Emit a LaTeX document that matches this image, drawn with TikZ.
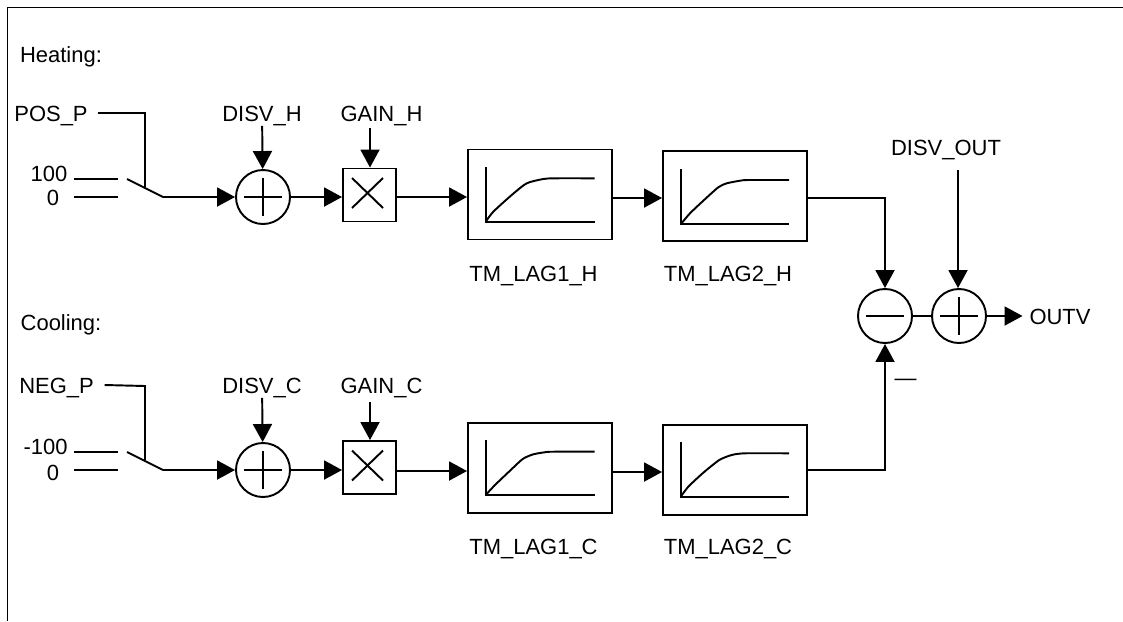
\documentclass[tikz,border=0pt]{standalone}
\usepackage{fontspec}
\setmainfont{Liberation Sans}
\usetikzlibrary{arrows.meta}

\begin{document}
\begin{tikzpicture}[
    x=0.2mm,
    y=-0.2mm,
    line width=1.1pt,
    every node/.style={font=\fontsize{12.5}{15}\selectfont},
    lbl/.style={inner xsep=1.2mm, inner ysep=0.8mm, text height=3.2mm, text depth=0pt},
    sumnode/.style={circle, draw, minimum size=10.8mm, inner sep=0pt},
    plusnode/.style={sumnode, path picture={
        \draw (path picture bounding box.center) ++(-19,0) -- ++(38,0);
        \draw (path picture bounding box.center) ++(0,-19) -- ++(0,38);}},
    minusnode/.style={sumnode, path picture={
        \draw (path picture bounding box.center) ++(-19,0) -- ++(38,0);}},
    prodnode/.style={rectangle, draw, minimum width=10.6mm, minimum height=10.6mm, path picture={
        \draw (path picture bounding box.center) ++(-17.5,-17) -- ++(31,30);
        \draw (path picture bounding box.center) ++(13.5,-17) -- ++(-31,30);}},
    lagbox/.style={rectangle, draw, minimum width=28.8mm, minimum height=18mm},
    arrow/.style={-{Triangle[length=3.6mm,width=3.8mm]}}
]
\useasboundingbox (0,0) rectangle (1123,621);

% Frame
\coordinate (frameleft) at (7.5,621);
\coordinate (framecorner) at (7.5,7.5);
\coordinate (frameright) at (1123,7.5);
\draw (frameleft) -- (framecorner) -- (frameright);

% Nodes, heating
\node[lbl] (heating) at (61,54) {Heating:};
\node[lbl, inner xsep=1.8mm] (posp) at (51,113) {POS\_P};
\node[lbl] (onehundred) at (49,173) {100};
\node[lbl] (zeroh) at (53,197) {0};
\node[lbl] (disvh) at (262,113) {DISV\_H};
\node[lbl] (gainh) at (381.5,113) {GAIN\_H};
\node[plusnode] (sumh) at (263,197) {};
\node[prodnode] (prodh) at (369.5,195) {};
\node[lagbox] (lag1h) at (540,194.5) {};
\node[lagbox] (lag2h) at (735,196) {};
\node[lbl] (lag1hname) at (533.5,273) {TM\_LAG1\_H};
\node[lbl] (lag2hname) at (728,273) {TM\_LAG2\_H};

% Nodes, cooling
\node[lbl] (cooling) at (61,322) {Cooling:};
\node[lbl, inner xsep=2mm] (negp) at (56.5,385) {NEG\_P};
\node[lbl] (minushundred) at (45.5,446) {-100};
\node[lbl] (zeroc) at (53,472) {0};
\node[lbl] (disvc) at (262,385) {DISV\_C};
\node[lbl] (gainc) at (381.5,385) {GAIN\_C};
\node[plusnode] (sumc) at (263,470) {};
\node[prodnode] (prodc) at (369.5,467.5) {};
\node[lagbox] (lag1c) at (540,468) {};
\node[lagbox] (lag2c) at (735,470) {};
\node[lbl] (lag1cname) at (533.5,546) {TM\_LAG1\_C};
\node[lbl] (lag2cname) at (728,546) {TM\_LAG2\_C};

% Nodes, output
\node[minusnode] (diffout) at (885,316) {};
\node[plusnode] (sumout) at (959,316) {};
\node[lbl] (disvout) at (946,147) {DISV\_OUT};
\node[lbl] (outv) at (1060,316) {OUTV};
\node[lbl] (minussign) at (905.5,377) {—};

% Switch points and free ends
\coordinate (swhtop) at (145,113);
\coordinate (swhjoin) at (145,187);
\coordinate (swhpole) at (127,179);
\coordinate (swhout) at (163,197);
\coordinate (swhhigh) at (118,179);
\coordinate (swhlow) at (118,197);
\coordinate (swctop) at (145,386);
\coordinate (swcjoin) at (145,460);
\coordinate (swcpole) at (127,452);
\coordinate (swcout) at (163,470);
\coordinate (swchigh) at (118,452);
\coordinate (swclow) at (118,470);
\coordinate (gainhin) at (370,128);
\coordinate (gaincin) at (370,402);
\coordinate (disvoutin) at (958,170);
\coordinate (linkh) at (612,198);
\coordinate (linkc) at (612,472);
\coordinate (intoh) at (396,197);
\coordinate (intoc) at (396,471);

% Arrows, heating
\draw (posp.east) -- (swhtop) -- (swhjoin);
\draw (onehundred.east |- swhhigh) -- (swhhigh);
\draw (onehundred.east |- swhlow) -- (swhlow);
\draw (swhpole) -- (swhout);
\draw[arrow] (swhout) -- (sumh);
\draw[arrow] (disvh) -- (sumh);
\draw[arrow] (gainhin) -- (gainhin |- prodh.north);
\draw[arrow] (sumh) -- (sumh -| prodh.west);
\draw[arrow] (intoh) -- (intoh -| lag1h.west);
\draw[arrow] (linkh) -- (linkh -| lag2h.west);
\draw[arrow] (linkh -| lag2h.east) -| (diffout.north);

% Arrows, cooling
\draw (negp.east) -- (swctop) -- (swcjoin);
\draw (minushundred.east |- swchigh) -- (swchigh);
\draw (minushundred.east |- swclow) -- (swclow);
\draw (swcpole) -- (swcout);
\draw[arrow] (swcout) -- (sumc);
\draw[arrow] (disvc) -- (sumc);
\draw[arrow] (gaincin) -- (gaincin |- prodc.north);
\draw[arrow] (sumc) -- (sumc -| prodc.west);
\draw[arrow] (intoc) -- (intoc -| lag1c.west);
\draw[arrow] (linkc) -- (linkc -| lag2c.west);
\draw[arrow] (lag2c.east) -| (diffout.south);

% Arrows, output
\draw (diffout) -- (sumout);
\draw[arrow] (disvoutin) -- (disvoutin |- sumout.north);
\draw[arrow] (sumout) -- (outv);

% Curves inside the lag boxes
\draw (485.7,167) -- (485.7,221.7) -- (594.7,221.7);
\draw plot[smooth, tension=0.4] coordinates {(485.7,221.7) (493.3,211.7) (511.7,195) (526.7,183.3) (543.3,179) (555,178.3) (594.7,178.3)};
\draw (680.7,169) -- (680.7,224.3) -- (789,224.3);
\draw plot[smooth, tension=0.4] coordinates {(680.7,224.3) (690,213.3) (703.3,200.7) (718.3,187.3) (726.7,183.3) (740,180.7) (748.3,180) (789,180)};
\draw (485.7,440) -- (485.7,495) -- (594.7,495);
\draw plot[smooth, tension=0.4] coordinates {(485.7,495) (495,485) (510,470.7) (522.7,459) (533.3,454.3) (546.7,452) (555,451.7) (594.7,451.7)};
\draw (680.7,442) -- (680.7,496.7) -- (789,496.7);
\draw plot[smooth, tension=0.4] coordinates {(680.7,496.7) (688.3,486.7) (703.3,472.7) (719.3,460) (731.7,455) (745,453.3) (789,453.3)};

\end{tikzpicture}
\end{document}
